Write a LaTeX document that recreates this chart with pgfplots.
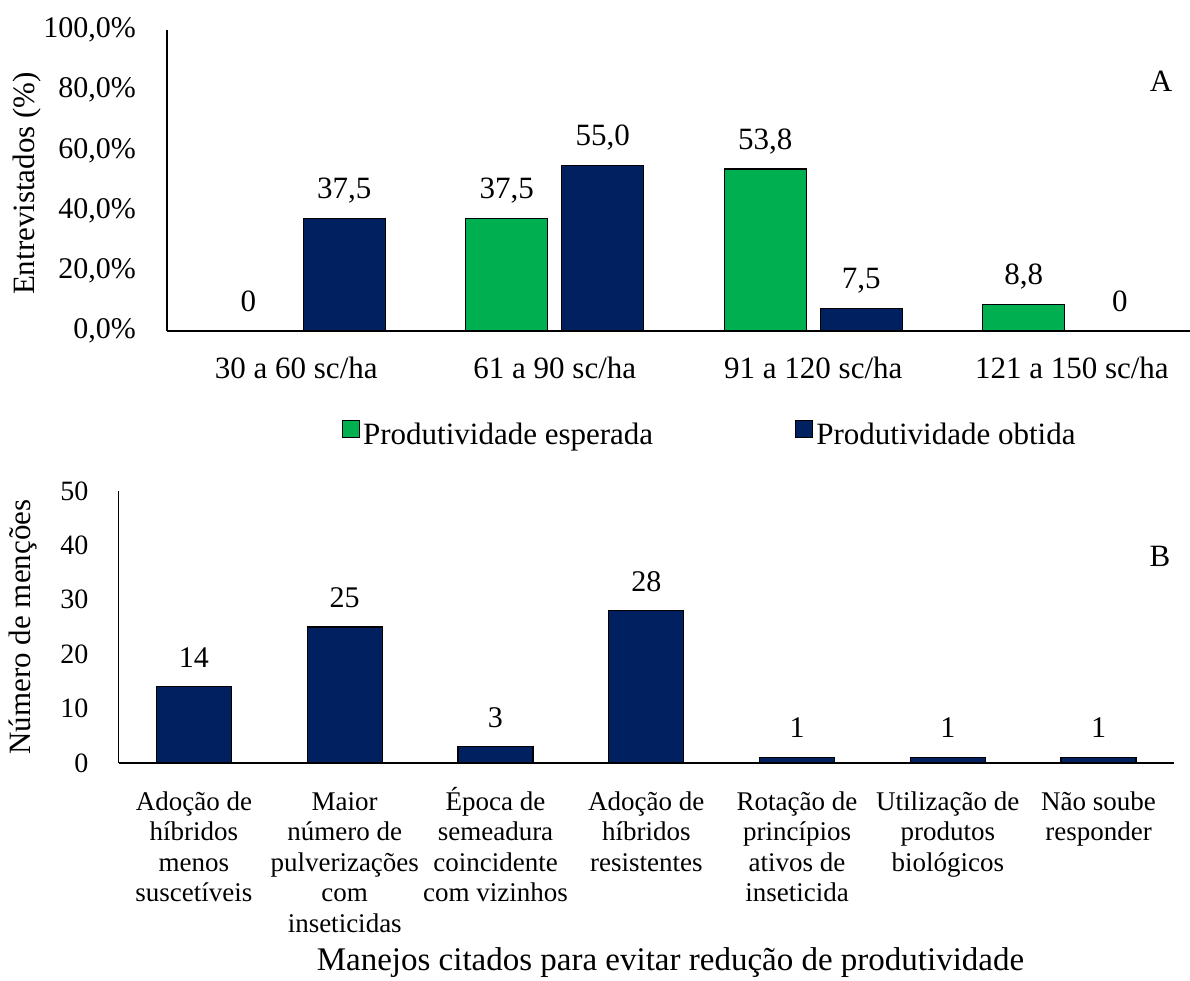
\documentclass[border=0pt]{standalone}
\usepackage{fontspec}
\setmainfont{Liberation Serif}
\usepackage{pgfplots}
\pgfplotsset{compat=1.18}
\pgfplotsset{/pgf/number format/assume math mode=true}
\definecolor{verde}{HTML}{00B050}
\definecolor{marinho}{HTML}{002060}
\newcommand\fl{\rule{0pt}{0.9em}}
\tikzset{
  f31/.style={font=\fontsize{31}{37}\selectfont},
  f30/.style={font=\fontsize{30}{36}\selectfont},
  f28/.style={font=\fontsize{28}{33}\selectfont},
  f27/.style={font=\fontsize{27}{30.5}\selectfont},
}
\begin{document}
\begin{tikzpicture}[x=1pt,y=1pt]
\path[use as bounding box] (0,0) rectangle (1190,980);

% ---- A: produtividade esperada x obtida ----
\begin{axis}[
  at={(167pt,649pt)}, anchor=south west,
  scale only axis, width=1023pt, height=301pt,
  xmin=-0.5, xmax=3.457, ymin=0, ymax=100,
  axis x line*=bottom, axis y line*=left,
  axis line style={line width=1.3pt},
  major tick length=0pt,
  xtick={0,1,2,3},
  xticklabels={30 a 60 sc/ha, 61 a 90 sc/ha, 91 a 120 sc/ha, 121 a 150 sc/ha},
  xticklabel style={f31, anchor=north, inner sep=0pt, text height=28pt, yshift=-19pt},
  ytick={0,20,40,60,80,100},
  yticklabels={{0,0\%},{20,0\%},{40,0\%},{60,0\%},{80,0\%},{100,0\%}},
  yticklabel style={f30, anchor=east, inner sep=0pt, xshift=-31pt},
  ylabel={Entrevistados (\%)},
  ylabel style={f31, at={(axis description cs:-0.137,0.49)}, anchor=center},
  ybar, bar width=82pt,
  every node near coord/.append style={f31, text=black, inner sep=0pt, text depth=0pt, yshift=19pt},
  legend style={at={(0.531,-0.345)}, anchor=center, draw=none, fill=none, f31,
    legend columns=2, /tikz/every even column/.append style={column sep=139pt},
    nodes={inner sep=3pt}},
  clip=false,
]
\addplot[fill=verde, draw=black, line width=1.2pt, bar shift=-48pt,
  nodes near coords={\pgfmathprintnumber[fixed,fixed zerofill,precision=1,use comma]{\pgfplotspointmeta}},
  legend image code/.code={\draw[fill=verde, draw=black, line width=1.2pt] (0pt,-3pt) rectangle (17pt,14pt);}]
  coordinates {(1,37.5) (2,53.8) (3,8.8)};
\addlegendentry{Produtividade esperada}
\addplot[fill=marinho, draw=black, line width=1.2pt, bar shift=48pt,
  nodes near coords={\pgfmathprintnumber[fixed,fixed zerofill,precision=1,use comma]{\pgfplotspointmeta}},
  legend image code/.code={\draw[fill=marinho, draw=black, line width=1.2pt] (0pt,-3pt) rectangle (17pt,14pt);}]
  coordinates {(0,37.5) (1,55.0) (2,7.5)};
\addlegendentry{Produtividade obtida}
% zero shares: label only
\addplot[draw=none, fill=none, bar shift=-48pt, nodes near coords, forget plot]
  coordinates {(0,0)};
\addplot[draw=none, fill=none, bar shift=48pt, nodes near coords, forget plot]
  coordinates {(3,0)};
\node[f31, anchor=center] at (axis description cs:0.9717,0.829) {A};
\end{axis}

% ---- B: manejos citados ----
\begin{axis}[
  at={(118.6pt,217pt)}, anchor=south west,
  scale only axis, width=1055.4pt, height=272pt,
  xmin=-0.5, xmax=6.5, ymin=0, ymax=50,
  axis x line*=bottom, axis y line*=left,
  axis line style={line width=1.3pt},
  major tick length=0pt,
  xtick={0,1,2,3,4,5,6},
  xticklabels={
    {\fl Adoção de\\híbridos\\menos\\suscetíveis},
    {\fl Maior\\número de\\pulverizações\\com\\inseticidas},
    {\fl Época de\\semeadura\\coincidente\\com vizinhos},
    {\fl Adoção de\\híbridos\\resistentes},
    {\fl Rotação de\\princípios\\ativos de\\inseticida},
    {\fl Utilização de\\produtos\\biológicos},
    {\fl Não soube\\responder}},
  xticklabel style={f27, align=center, anchor=north, inner sep=0pt, yshift=-22.7pt},
  ytick={0,10,20,30,40,50},
  yticklabels={0,10,20,30,40,50},
  yticklabel style={f28, anchor=east, inner sep=0pt, xshift=-30pt},
  ylabel={Número de menções},
  ylabel style={f31, at={(axis description cs:-0.0906,0.5)}, anchor=center},
  xlabel={Manejos citados para evitar redução de produtividade},
  xlabel style={font=\fontsize{33}{39}\selectfont, at={(axis description cs:0.523,-0.763)}, anchor=base},
  ybar, bar width=75pt,
  every node near coord/.append style={f30, text=black, inner sep=0pt, text depth=0pt, yshift=19pt},
  clip=false,
]
\addplot[fill=marinho, draw=black, line width=1.2pt, bar shift=0pt, nodes near coords]
  coordinates {(0,14) (1,25) (2,3) (3,28) (4,1) (5,1) (6,1)};
\node[f31, anchor=center] at (axis description cs:0.9867,0.761) {B};
\end{axis}
\end{tikzpicture}
\end{document}
